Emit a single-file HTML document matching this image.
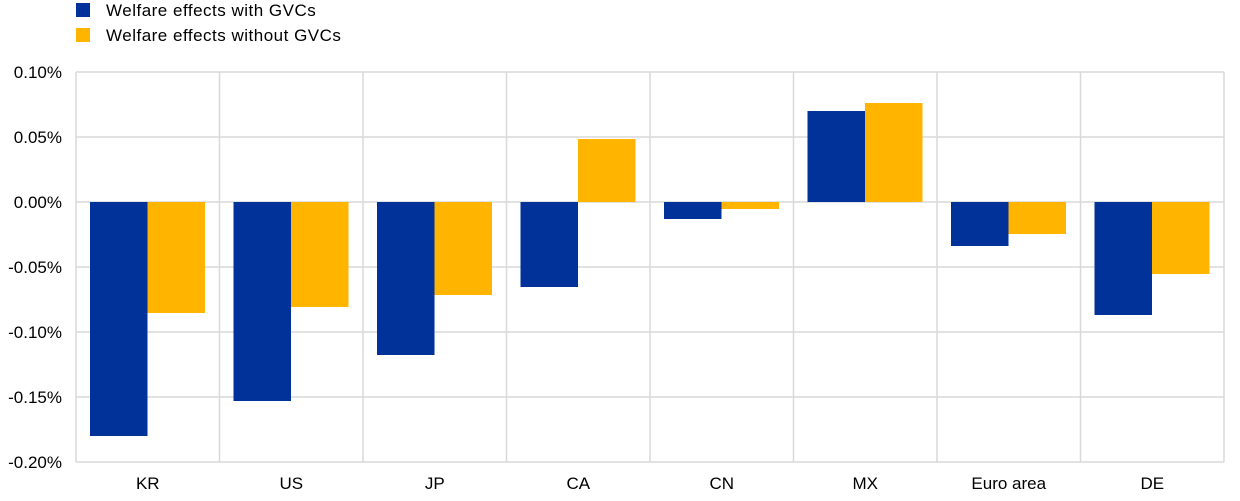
<!DOCTYPE html>
<html><head><meta charset="utf-8"><style>
html,body{margin:0;padding:0;background:#fff;}
svg{display:block;font-family:"Liberation Sans",Arial,sans-serif;}
</style></head><body>
<svg width="1240" height="501" viewBox="0 0 1240 501" xmlns="http://www.w3.org/2000/svg">
<rect x="76" y="3" width="14" height="14" fill="#003299"/>
<text x="106" y="16" font-size="17" letter-spacing="0.5" fill="#000">Welfare effects with GVCs</text>
<rect x="76" y="28" width="14" height="14" fill="#FFB400"/>
<text x="106" y="41" font-size="17" letter-spacing="0.5" fill="#000">Welfare effects without GVCs</text>
<g stroke="#d9d9d9" stroke-width="1.5" fill="none">
<line x1="76" y1="72" x2="1224" y2="72"/>
<line x1="76" y1="137" x2="1224" y2="137"/>
<line x1="76" y1="202" x2="1224" y2="202"/>
<line x1="76" y1="267" x2="1224" y2="267"/>
<line x1="76" y1="332" x2="1224" y2="332"/>
<line x1="76" y1="397" x2="1224" y2="397"/>
<line x1="76" y1="462" x2="1224" y2="462"/>
<line x1="76" y1="72" x2="76" y2="462"/>
<line x1="219.5" y1="72" x2="219.5" y2="462"/>
<line x1="363" y1="72" x2="363" y2="462"/>
<line x1="506.5" y1="72" x2="506.5" y2="462"/>
<line x1="650" y1="72" x2="650" y2="462"/>
<line x1="793.5" y1="72" x2="793.5" y2="462"/>
<line x1="937" y1="72" x2="937" y2="462"/>
<line x1="1080.5" y1="72" x2="1080.5" y2="462"/>
<line x1="1224" y1="72" x2="1224" y2="462"/>
</g>
<g font-size="17" fill="#000" text-anchor="end">
<text x="62" y="78">0.10%</text>
<text x="62" y="143">0.05%</text>
<text x="62" y="208">0.00%</text>
<text x="62" y="273">-0.05%</text>
<text x="62" y="338">-0.10%</text>
<text x="62" y="403">-0.15%</text>
<text x="62" y="468">-0.20%</text>
</g>
<g fill="#003299">
<rect x="90" y="202" width="57.5" height="234"/>
<rect x="233.5" y="202" width="57.5" height="199"/>
<rect x="377" y="202" width="57.5" height="153"/>
<rect x="520.5" y="202" width="57.5" height="85"/>
<rect x="664" y="202" width="57.5" height="17"/>
<rect x="807.5" y="111" width="57.5" height="91"/>
<rect x="951" y="202" width="57.5" height="44"/>
<rect x="1094.5" y="202" width="57.5" height="113"/>
</g>
<g fill="#FFB400">
<rect x="147.5" y="202" width="57.5" height="111"/>
<rect x="291" y="202" width="57.5" height="105"/>
<rect x="434.5" y="202" width="57.5" height="93"/>
<rect x="578" y="139" width="57.5" height="63"/>
<rect x="721.5" y="202" width="57.5" height="7"/>
<rect x="865" y="103" width="57.5" height="99"/>
<rect x="1008.5" y="202" width="57.5" height="32"/>
<rect x="1152" y="202" width="57.5" height="72"/>
</g>
<g font-size="17" fill="#000" text-anchor="middle">
<text x="147.75" y="489">KR</text>
<text x="291.25" y="489">US</text>
<text x="434.75" y="489">JP</text>
<text x="578.25" y="489">CA</text>
<text x="721.75" y="489">CN</text>
<text x="865.25" y="489">MX</text>
<text x="1008.75" y="489">Euro area</text>
<text x="1152.25" y="489">DE</text>
</g>
</svg>
</body></html>
